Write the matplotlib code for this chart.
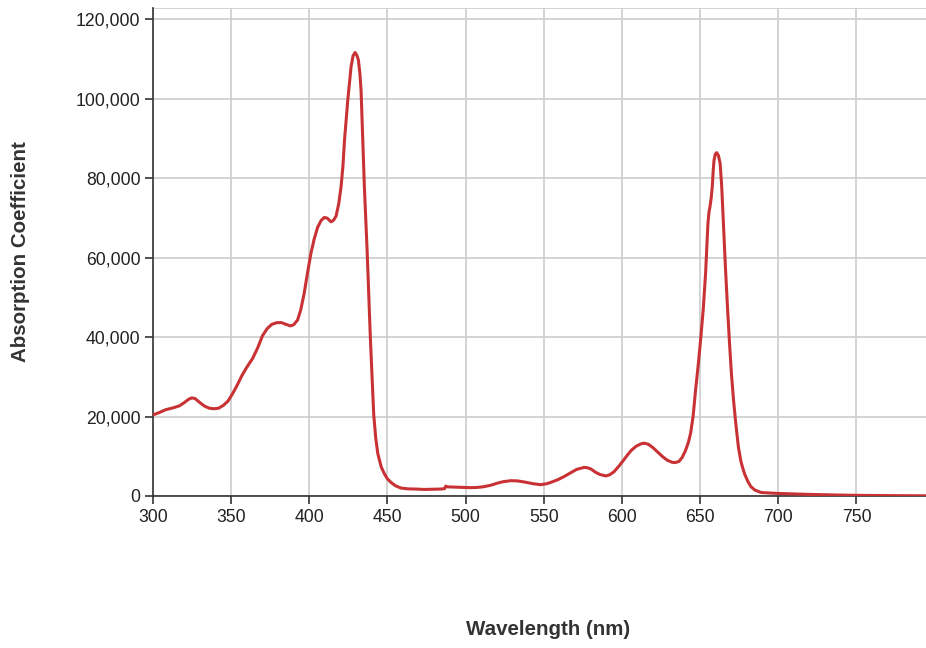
import matplotlib
matplotlib.use("Agg")
import matplotlib.pyplot as plt
from matplotlib.ticker import FuncFormatter

plt.rcParams['font.family'] = ['Liberation Sans', 'DejaVu Sans']

wavelength = [300, 304, 308, 313, 317, 320, 323, 325, 327, 330, 333, 336, 339, 342, 345, 348,
              351, 354, 357, 360, 363.7, 367, 370, 373, 376, 379, 382, 385, 388, 390, 392.5,
              394.5, 396.7, 399, 401, 403, 405.3, 407.5, 409.6, 411.5, 413.9, 415.5, 417.1,
              418.8, 420.3, 421.5, 422.5, 424.6, 426.7, 428, 429.3, 430.5, 431.4, 432.3, 433.1,
              434.2, 435.2, 437, 439.1, 441.2, 442.5, 443.8, 446, 448, 450, 452.3, 455, 458.6,
              463, 468, 473.5, 480, 484, 486.5, 487.3, 488.4, 492, 497, 503, 507, 511, 516, 520,
              524, 528.9, 533, 538, 543, 548, 552, 555, 559, 563, 567, 571, 575.8, 578, 580.1,
              583, 586, 589.7, 592, 594.9, 598, 601, 603.5, 606, 609, 612, 614.1, 617, 620,
              622.7, 626, 629, 632, 634, 636.5, 638.5, 640.5, 642.5, 643.9, 645.5, 647.1, 648.8,
              650.3, 652, 653.5, 654.3, 655, 655.7, 656.3, 657.1, 657.8, 658.4, 658.9, 659.7,
              660.6, 661.7, 662.8, 663.8, 664.9, 666.2, 667.5, 668.8, 670, 671.4, 672.8, 674.5,
              676, 677, 678.5, 680.5, 682.4, 685, 688.8, 693, 700, 710, 720, 735, 750, 770, 795]
absorption = [20400, 21000, 21700, 22200, 22700, 23500, 24400, 24700, 24500, 23500, 22600, 22100,
              21950, 22100, 22800, 23900, 25800, 28000, 30400, 32400, 34600, 37300, 40300, 42100,
              43200, 43600, 43650, 43200, 42800, 43100, 44300, 46800, 51000, 56500, 61000, 64500,
              67600, 69300, 70100, 69900, 69000, 69400, 70400, 73500, 77800, 83000, 89500, 99600,
              108000, 110800, 111600, 110800, 109700, 106500, 102100, 89500, 78000, 61500, 39250,
              20500, 14500, 10700, 7300, 5600, 4300, 3400, 2600, 2000, 1800, 1750, 1650, 1700,
              1750, 1850, 2500, 2300, 2250, 2200, 2100, 2150, 2300, 2700, 3200, 3600, 3850, 3800,
              3500, 3100, 2850, 3100, 3500, 4100, 4900, 5800, 6700, 7200, 7100, 6800, 6000, 5400,
              5050, 5300, 6100, 7500, 9000, 10300, 11500, 12500, 13100, 13300, 13000, 12100,
              11100, 9900, 9000, 8500, 8400, 8700, 9700, 11300, 13500, 15770, 20000, 26670,
              33000, 39250, 47000, 56000, 63000, 68600, 71500, 72800, 75000, 78000, 82000, 84500,
              86000, 86400, 85700, 83700, 78000, 68600, 57500, 47600, 38500, 30900, 24000, 18300,
              12300, 8900, 7400, 5500, 3700, 2400, 1500, 900, 780, 650, 520, 400, 270, 170, 100, 50]

x_ticks = [300, 350, 400, 450, 500, 550, 600, 650, 700, 750]
y_ticks = [0, 20000, 40000, 60000, 80000, 100000, 120000]

fig = plt.figure(figsize=(9.26, 6.48), dpi=100)
ax = fig.add_axes([153 / 926, 1 - 496 / 648, 1 - 153 / 926, (496 - 8) / 648])

ax.plot(wavelength, absorption, color='#C93235', linewidth=2.2, solid_joinstyle='round',
        solid_capstyle='round', zorder=3)

ax.set_xlim(300, 794.5)
ax.set_ylim(0, 122800)
ax.set_xticks(x_ticks)
ax.set_yticks(y_ticks)
ax.yaxis.set_major_formatter(FuncFormatter(lambda v, p: f"{int(v):,}"))

ax.grid(True, color='#cccccc', linewidth=1.2, zorder=0)
ax.set_axisbelow(True)
for s in ['top', 'right']:
    ax.spines[s].set_visible(False)
for s in ['left', 'bottom']:
    ax.spines[s].set_color('#333333')
    ax.spines[s].set_linewidth(1.2)
ax.axhline(122800, color='#cccccc', linewidth=1.2, zorder=0)

ax.tick_params(axis='both', direction='out', length=6, width=1.2, color='#333333',
               labelsize=12.7, labelcolor='#222222', pad=3)

ax.set_xlabel('Wavelength (nm)', fontsize=14.8, fontweight='bold', color='#333333')
ax.set_ylabel('Absorption Coefficient', fontsize=14.8, fontweight='bold', color='#333333')
ax.xaxis.set_label_coords((548 - 153) / 773, (496 - 620) / 488)
ax.yaxis.set_label_coords((30 - 153) / 773, 0.5)

fig.savefig('out.png', dpi=100)
